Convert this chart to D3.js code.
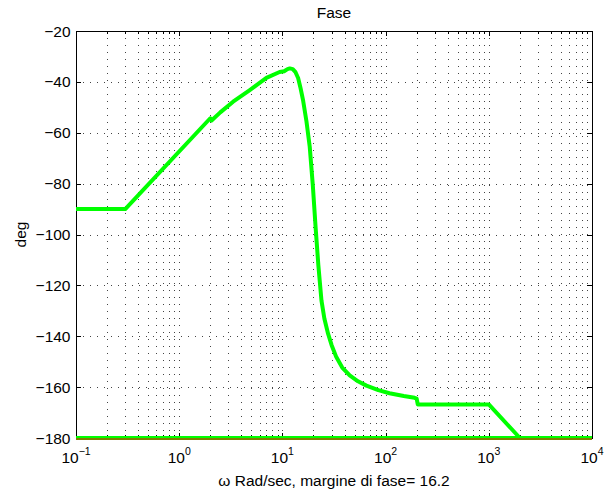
<!DOCTYPE html>
<html>
<head>
<meta charset="utf-8">
<script src="https://cdn.jsdelivr.net/npm/d3@7"></script>
<style>
  body { margin: 0; background: #fff; }
  text { font-family: "Liberation Sans", Arial, Helvetica, sans-serif; }
</style>
</head>
<body>
<div id="chart"></div>
<script>
// phase curve (omega in rad/sec, phase in deg)
const omega = [0.1, 0.3, 2, 2.06, 2.5, 3.33, 4.83, 7.0, 9.4, 10.4, 11.2, 11.8, 12.6, 13.4, 14.2, 15.0, 15.9, 17.1, 18.4, 19.7, 21.0, 22.3, 23.9, 25.5, 27.7, 30.0, 33.3, 38.0, 44.9, 54.0, 65.2, 85.0, 109, 150, 191, 200, 205, 1000, 2000, 10000];
const phase = [-90, -90, -54.3, -55.2, -52.0, -47.8, -43.2, -38.4, -36.1, -35.8, -35.0, -34.7, -35.0, -36.2, -38.5, -42.5, -47.5, -55.5, -65.5, -80.5, -97.5, -112, -125.9, -133, -139, -143.5, -148.2, -152.3, -155.4, -157.7, -159.4, -161.2, -162.4, -163.5, -164.2, -164.5, -166.8, -166.8, -180, -180];
// flat line at -180
const floorOmega = [0.1, 10000];
const floorPhase = [-180, -180];

const xTicks = [-1, 0, 1, 2, 3, 4];
const yTicks = [-180, -160, -140, -120, -100, -80, -60, -40, -20];

const width = 606, height = 490;
const margin = { top: 31, right: 14, bottom: 52, left: 76 };
const W = width - margin.left - margin.right;
const H = height - margin.top - margin.bottom;

const x = d3.scaleLog().domain([0.1, 10000]).range([margin.left, margin.left + W]);
const y = d3.scaleLinear().domain([-180, -20]).range([margin.top + H, margin.top]);

const svg = d3.select("#chart").append("svg")
  .attr("width", width).attr("height", height);

// minor + major decade values
const xAll = [];
for (let e = -1; e < 4; e++) for (let m = 1; m < 10; m++) xAll.push(m * Math.pow(10, e));
xAll.push(10000);

// grid
const grid = svg.append("g").attr("stroke", "#444").attr("stroke-width", 1)
  .attr("stroke-dasharray", "1,6").attr("shape-rendering", "crispEdges");
grid.selectAll(".vg").data(xAll.filter(v => v > 0.1 && v < 10000)).enter().append("line")
  .attr("x1", d => Math.round(x(d)) + 0.5).attr("x2", d => Math.round(x(d)) + 0.5)
  .attr("y1", margin.top).attr("y2", margin.top + H);
grid.selectAll(".hg").data(yTicks.filter(v => v > -180 && v < -20)).enter().append("line")
  .attr("y1", d => Math.round(y(d)) + 0.5).attr("y2", d => Math.round(y(d)) + 0.5)
  .attr("x1", margin.left).attr("x2", margin.left + W);

// box
svg.append("rect")
  .attr("x", margin.left + 0.5).attr("y", margin.top + 0.5)
  .attr("width", W).attr("height", H)
  .attr("fill", "none").attr("stroke", "#000").attr("shape-rendering", "crispEdges");

// ticks
const tk = svg.append("g").attr("stroke", "#000").attr("shape-rendering", "crispEdges");
xAll.forEach(v => {
  const major = Math.abs(Math.log10(v) - Math.round(Math.log10(v))) < 1e-9;
  const len = major ? 5 : 3;
  const px = Math.round(x(v)) + 0.5;
  tk.append("line").attr("x1", px).attr("x2", px).attr("y1", margin.top + H).attr("y2", margin.top + H - len);
  tk.append("line").attr("x1", px).attr("x2", px).attr("y1", margin.top).attr("y2", margin.top + len);
});
yTicks.forEach(v => {
  const py = Math.round(y(v)) + 0.5;
  tk.append("line").attr("x1", margin.left).attr("x2", margin.left + 5).attr("y1", py).attr("y2", py);
  tk.append("line").attr("x1", margin.left + W).attr("x2", margin.left + W - 5).attr("y1", py).attr("y2", py);
});

// tick labels
const fmt = d3.format("d");
svg.selectAll(".yl").data(yTicks).enter().append("text")
  .attr("x", margin.left - 5.5).attr("y", d => y(d)).attr("dy", "0.36em")
  .attr("text-anchor", "end").attr("font-size", "15.5px").text(d => fmt(d));

const xl = svg.selectAll(".xl").data(xTicks).enter().append("text")
  .attr("x", d => x(Math.pow(10, d))).attr("y", margin.top + H + 25)
  .attr("text-anchor", "middle").attr("font-size", "15.5px");
xl.append("tspan").text("10");
xl.append("tspan").attr("dy", -8).attr("font-size", "10.5px").text(d => fmt(d));

// curves
const line = d3.line().x(d => x(d[0])).y(d => y(d[1]));
svg.append("path").datum(floorOmega.map((w, i) => [w, floorPhase[i]]))
  .attr("d", line).attr("fill", "none").attr("stroke", "#00ff00").attr("stroke-width", 4);
svg.append("path").datum(omega.map((w, i) => [w, phase[i]]))
  .attr("d", line).attr("fill", "none").attr("stroke", "#00ff00").attr("stroke-width", 4)
  .attr("stroke-linejoin", "round");
svg.append("path").datum(floorOmega.map((w, i) => [w, floorPhase[i]]))
  .attr("d", line).attr("transform", "translate(0,1)")
  .attr("fill", "none").attr("stroke", "#ff0000").attr("stroke-width", 1);

// titles
svg.append("text").attr("x", margin.left + W / 2).attr("y", 18)
  .attr("text-anchor", "middle").attr("font-size", "15.5px").text("Fase");
svg.append("text").attr("x", margin.left + W / 2).attr("y", 486)
  .attr("text-anchor", "middle").attr("font-size", "15.5px").text("ω Rad/sec, margine di fase= 16.2");
svg.append("text").attr("transform", `translate(26,${margin.top + H / 2}) rotate(-90)`)
  .attr("text-anchor", "middle").attr("font-size", "15.5px").text("deg");
</script>
</body>
</html>
